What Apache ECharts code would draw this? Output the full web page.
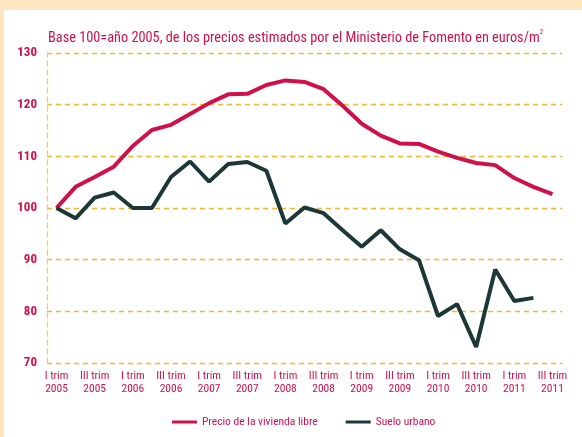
<!DOCTYPE html>
<html>
<head>
<meta charset="utf-8">
<script src="https://cdn.jsdelivr.net/npm/echarts@6/dist/echarts.min.js"></script>
<style>
html, body { margin: 0; padding: 0; width: 582px; height: 437px; background: #FDE6BF; overflow: hidden; }
#chart { position: absolute; left: 4px; top: 10px; width: 578px; height: 427px; background: #ffffff; }
</style>
</head>
<body>
<div id="chart"></div>
<script>
const categories = [
  "I trim\n2005", "II trim\n2005", "III trim\n2005", "IV trim\n2005",
  "I trim\n2006", "II trim\n2006", "III trim\n2006", "IV trim\n2006",
  "I trim\n2007", "II trim\n2007", "III trim\n2007", "IV trim\n2007",
  "I trim\n2008", "II trim\n2008", "III trim\n2008", "IV trim\n2008",
  "I trim\n2009", "II trim\n2009", "III trim\n2009", "IV trim\n2009",
  "I trim\n2010", "II trim\n2010", "III trim\n2010", "IV trim\n2010",
  "I trim\n2011", "II trim\n2011", "III trim\n2011"
];
const viviendaLibre = [100, 104.1, 106, 108, 112, 115.1, 116.1, 118.2, 120.3, 122, 122.1, 123.8, 124.7,
  124.4, 123, 119.8, 116.3, 114, 112.5, 112.4, 110.9, 109.7, 108.7, 108.3, 105.8, 104.1, 102.7];
const sueloUrbano = [100, 98, 102, 103, 100, 100, 106, 109, 105.1, 108.5, 108.9, 107.2, 97,
  100.1, 99, 95.7, 92.5, 95.7, 92, 89.9, 79.1, 81.4, 73.1, 88.1, 82, 82.6, null];
const seriesNames = ["Precio de la vivienda libre", "Suelo urbano"];
const yTicks = { min: 70, max: 130, interval: 10 };

const RED = '#D0104A';
const DARK = '#1C3836';
const GRID = '#F8B52C';
const FONT = '"Roboto Condensed", "Open Sans Condensed", sans-serif';

const chart = echarts.init(document.getElementById('chart'), null, { renderer: 'canvas' });
chart.setOption({
  animation: false,
  title: {
    text: '{t|Base 100=año 2005, de los precios estimados por el Ministerio de Fomento en euros/m}{s|2}',
    left: 44,
    top: 19,
    padding: 0,
    textStyle: {
      fontWeight: 'normal',
      rich: {
        t: { fontFamily: FONT, fontSize: 14.3, fontWeight: 'normal', color: RED, lineHeight: 18 },
        s: { fontFamily: FONT, fontSize: 7, fontWeight: 'normal', color: RED, verticalAlign: 'top', lineHeight: 8 }
      }
    }
  },
  legend: {
    left: 168,
    top: 406,
    padding: 0,
    itemWidth: 25,
    itemHeight: 3,
    itemGap: 28,
    icon: 'rect',
    textStyle: { fontFamily: FONT, fontSize: 11.5, color: RED },
    data: seriesNames
  },
  grid: { left: 43, top: 43, right: 20, bottom: 74, containLabel: false },
  xAxis: {
    type: 'category',
    data: categories,
    boundaryGap: true,
    axisLine: { show: false },
    axisTick: { show: false },
    splitLine: { show: false },
    axisLabel: {
      interval: 1,
      margin: 7,
      fontFamily: FONT,
      fontSize: 11.5,
      lineHeight: 13,
      color: RED
    }
  },
  yAxis: {
    type: 'value',
    min: yTicks.min,
    max: yTicks.max,
    interval: yTicks.interval,
    axisLine: { show: true, lineStyle: { color: '#F9C862', type: [5, 4], width: 1.3 } },
    axisTick: { show: false },
    splitLine: { show: true, lineStyle: { color: GRID, type: [5, 4], width: 1.3 } },
    axisLabel: {
      margin: 10,
      fontFamily: FONT,
      fontWeight: 'bold',
      fontSize: 13,
      color: RED
    }
  },
  series: [
    {
      name: seriesNames[0],
      type: 'line',
      data: viviendaLibre,
      symbol: 'none',
      lineStyle: { color: RED, width: 4 },
      itemStyle: { color: RED },
      z: 3
    },
    {
      name: seriesNames[1],
      type: 'line',
      data: sueloUrbano,
      symbol: 'none',
      lineStyle: { color: DARK, width: 4 },
      itemStyle: { color: DARK },
      z: 4
    }
  ]
});
</script>
</body>
</html>
